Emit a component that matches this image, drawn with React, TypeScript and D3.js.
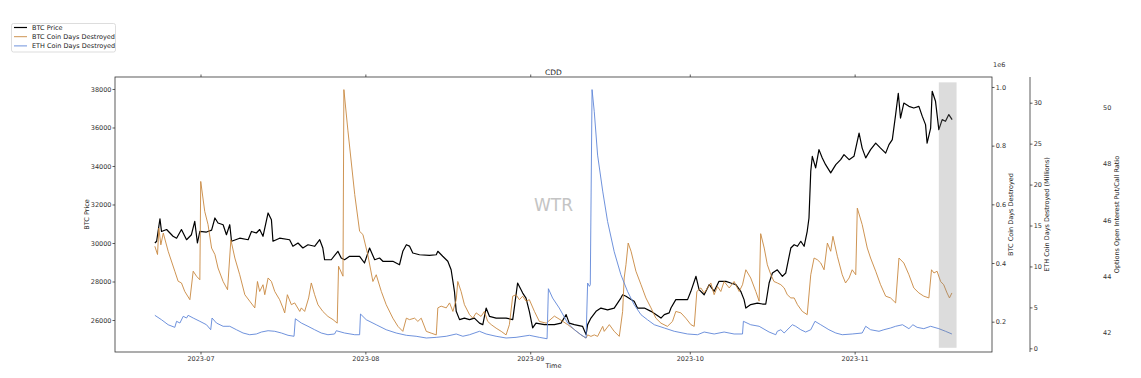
import React, { useEffect, useRef } from "react";
import * as d3 from "d3";

// ---------- DATA ----------
const btcPrice: [string, number][] = [
  ["2023-06-22 10", 30000], ["2023-06-22 18", 30090], ["2023-06-23 09", 31260], ["2023-06-23 16", 30600],
  ["2023-06-24 15", 30700], ["2023-06-25 06", 30520], ["2023-06-25 20", 30350], ["2023-06-26 12", 30250],
  ["2023-06-27 10", 30700], ["2023-06-28 09", 30170], ["2023-06-29 07", 30430], ["2023-06-29 22", 31120],
  ["2023-06-30 10", 30000], ["2023-06-30 21", 30600], ["2023-07-02 03", 30570], ["2023-07-03 02", 30670],
  ["2023-07-03 17", 31300], ["2023-07-04 07", 31040], ["2023-07-05 06", 30950], ["2023-07-05 21", 30430],
  ["2023-07-06 12", 30950], ["2023-07-06 20", 30090], ["2023-07-08 09", 30250], ["2023-07-09 23", 30170],
  ["2023-07-10 14", 30600], ["2023-07-11 12", 30520], ["2023-07-12 03", 30700], ["2023-07-12 18", 30350],
  ["2023-07-13 17", 31560], ["2023-07-14 08", 31210], ["2023-07-14 15", 30090], ["2023-07-15 21", 30250],
  ["2023-07-17 18", 30170], ["2023-07-18 09", 29830], ["2023-07-19 08", 30000], ["2023-07-20 06", 29740],
  ["2023-07-21 05", 29910], ["2023-07-22 11", 29830], ["2023-07-23 10", 30170], ["2023-07-24 00", 29740],
  ["2023-07-24 08", 29130], ["2023-07-25 14", 29130], ["2023-07-26 20", 29570], ["2023-07-27 11", 29220],
  ["2023-07-28 02", 29130], ["2023-07-29 01", 29310], ["2023-07-30 00", 29310], ["2023-07-30 22", 29310],
  ["2023-07-31 20", 28960], ["2023-08-01 19", 29740], ["2023-08-02 18", 29130], ["2023-08-03 16", 29220],
  ["2023-08-04 07", 29050], ["2023-08-06 04", 29050], ["2023-08-07 10", 28870], ["2023-08-08 01", 29570],
  ["2023-08-08 17", 29910], ["2023-08-09 07", 29840], ["2023-08-09 22", 29480], ["2023-08-11 04", 29390],
  ["2023-08-13 01", 29360], ["2023-08-14 08", 29390], ["2023-08-14 15", 29570], ["2023-08-15 13", 29310],
  ["2023-08-16 12", 29050], ["2023-08-17 03", 28610], ["2023-08-17 18", 27490], ["2023-08-18 02", 26450],
  ["2023-08-18 17", 26020], ["2023-08-19 15", 26100], ["2023-08-20 14", 26020], ["2023-08-21 12", 26100],
  ["2023-08-22 11", 25840], ["2023-08-23 02", 25760], ["2023-08-23 17", 26620], ["2023-08-24 08", 26190],
  ["2023-08-25 14", 26100], ["2023-08-27 11", 26100], ["2023-08-28 17", 26020], ["2023-08-29 00", 26620],
  ["2023-08-29 15", 27920], ["2023-08-30 14", 27400], ["2023-08-31 05", 27140], ["2023-08-31 20", 26450],
  ["2023-09-01 11", 25590], ["2023-09-02 02", 25840], ["2023-09-03 16", 25760], ["2023-09-05 13", 25760],
  ["2023-09-06 19", 25840], ["2023-09-07 18", 26280], ["2023-09-08 08", 25840], ["2023-09-09 07", 25760],
  ["2023-09-10 20", 25670], ["2023-09-11 12", 25240], ["2023-09-11 19", 25760], ["2023-09-12 10", 26100],
  ["2023-09-13 09", 26450], ["2023-09-14 07", 26620], ["2023-09-15 13", 26530], ["2023-09-16 19", 26620],
  ["2023-09-18 01", 27140], ["2023-09-18 09", 27310], ["2023-09-19 00", 27230], ["2023-09-19 23", 27060],
  ["2023-09-20 13", 26970], ["2023-09-21 04", 26620], ["2023-09-22 11", 26620], ["2023-09-23 17", 26450],
  ["2023-09-24 15", 26280], ["2023-09-25 14", 26100], ["2023-09-26 05", 26280], ["2023-09-27 03", 26370],
  ["2023-09-27 11", 26620], ["2023-09-28 09", 27060], ["2023-09-29 08", 27060], ["2023-09-30 14", 27060],
  ["2023-10-01 05", 27490], ["2023-10-02 04", 28270], ["2023-10-02 18", 27580], ["2023-10-03 17", 27310],
  ["2023-10-04 16", 27840], ["2023-10-05 14", 27490], ["2023-10-06 12", 28010], ["2023-10-07 19", 28010],
  ["2023-10-08 17", 27920], ["2023-10-09 16", 27840], ["2023-10-10 14", 27490], ["2023-10-11 05", 27060],
  ["2023-10-11 13", 26620], ["2023-10-12 11", 26800], ["2023-10-13 17", 26880], ["2023-10-14 16", 26830],
  ["2023-10-15 07", 26830], ["2023-10-15 22", 27920], ["2023-10-16 13", 28440], ["2023-10-17 11", 28610],
  ["2023-10-18 10", 28270], ["2023-10-19 01", 28440], ["2023-10-20 00", 29740], ["2023-10-20 15", 29910],
  ["2023-10-21 06", 29830], ["2023-10-21 21", 30090], ["2023-10-22 12", 29830], ["2023-10-23 02", 30610],
  ["2023-10-23 10", 31300], ["2023-10-23 18", 33730], ["2023-10-24 01", 34500], ["2023-10-24 16", 33900],
  ["2023-10-25 07", 34850], ["2023-10-25 22", 34420], ["2023-10-26 13", 34070], ["2023-10-27 12", 33640],
  ["2023-10-28 11", 34070], ["2023-10-29 09", 34330], ["2023-10-30 00", 34590], ["2023-10-30 23", 34330],
  ["2023-10-31 21", 34500], ["2023-11-01 20", 35710], ["2023-11-02 10", 34930], ["2023-11-03 02", 34420],
  ["2023-11-04 00", 34850], ["2023-11-04 23", 35190], ["2023-11-05 21", 34930], ["2023-11-06 20", 34670],
  ["2023-11-07 11", 35110], ["2023-11-08 02", 35370], ["2023-11-08 17", 36670], ["2023-11-09 05", 37780],
  ["2023-11-09 15", 36490], ["2023-11-10 06", 37270], ["2023-11-11 05", 37100], ["2023-11-12 03", 37010],
  ["2023-11-13 02", 37100], ["2023-11-13 17", 36590], ["2023-11-14 08", 36150], ["2023-11-14 15", 35190],
  ["2023-11-15 07", 35970], ["2023-11-15 14", 37880], ["2023-11-16 05", 37360], ["2023-11-16 20", 35890],
  ["2023-11-17 11", 36410], ["2023-11-18 02", 36320], ["2023-11-18 17", 36670], ["2023-11-19 08", 36410],
];

// BTC Coin Days Destroyed, in millions (axis offset 1e6)
const btcCdd: [string, number][] = [
  ["2023-06-22 10", 0.457], ["2023-06-22 22", 0.429], ["2023-06-23 04", 0.519], ["2023-06-23 13", 0.462],
  ["2023-06-24 00", 0.502], ["2023-06-24 22", 0.44], ["2023-06-26 04", 0.372], ["2023-06-26 19", 0.338],
  ["2023-06-27 10", 0.332], ["2023-06-28 01", 0.303], ["2023-06-29 00", 0.275], ["2023-06-29 15", 0.372],
  ["2023-06-30 06", 0.355], ["2023-06-30 21", 0.343], ["2023-07-01 01", 0.678], ["2023-07-01 19", 0.576],
  ["2023-07-02 10", 0.531], ["2023-07-03 02", 0.451], ["2023-07-03 17", 0.429], ["2023-07-04 07", 0.383],
  ["2023-07-05 06", 0.337], ["2023-07-06 02", 0.309], ["2023-07-06 17", 0.479], ["2023-07-07 11", 0.417],
  ["2023-07-08 09", 0.36], ["2023-07-09 08", 0.292], ["2023-07-10 06", 0.27], ["2023-07-11 05", 0.247],
  ["2023-07-11 17", 0.337], ["2023-07-12 03", 0.303], ["2023-07-12 18", 0.326], ["2023-07-13 02", 0.292],
  ["2023-07-13 17", 0.349], ["2023-07-14 08", 0.337], ["2023-07-14 23", 0.303], ["2023-07-15 21", 0.275],
  ["2023-07-16 12", 0.247], ["2023-07-16 20", 0.23], ["2023-07-17 08", 0.292], ["2023-07-18 02", 0.258],
  ["2023-07-18 17", 0.264], ["2023-07-19 16", 0.235], ["2023-07-19 23", 0.247], ["2023-07-20 14", 0.235],
  ["2023-07-21 08", 0.281], ["2023-07-21 20", 0.332], ["2023-07-22 11", 0.292], ["2023-07-23 02", 0.258],
  ["2023-07-24 00", 0.235], ["2023-07-24 23", 0.218], ["2023-07-25 22", 0.207], ["2023-07-26 17", 0.195],
  ["2023-07-26 23", 0.389], ["2023-07-27 19", 0.355], ["2023-07-27 23", 0.991], ["2023-07-28 17", 0.853],
  ["2023-07-30 00", 0.633], ["2023-07-30 22", 0.508], ["2023-07-31 13", 0.497], ["2023-08-01 11", 0.428],
  ["2023-08-02 10", 0.337], ["2023-08-03 01", 0.36], ["2023-08-04 00", 0.303], ["2023-08-04 22", 0.258],
  ["2023-08-06 04", 0.212], ["2023-08-07 03", 0.184], ["2023-08-08 01", 0.167], ["2023-08-08 17", 0.212],
  ["2023-08-09 07", 0.207], ["2023-08-10 06", 0.212], ["2023-08-10 21", 0.201], ["2023-08-11 12", 0.212],
  ["2023-08-12 11", 0.167], ["2023-08-13 09", 0.161], ["2023-08-14 08", 0.155], ["2023-08-14 15", 0.247],
  ["2023-08-15 06", 0.253], ["2023-08-16 05", 0.247], ["2023-08-16 20", 0.264], ["2023-08-17 11", 0.235],
  ["2023-08-18 02", 0.275], ["2023-08-18 09", 0.337], ["2023-08-19 00", 0.303], ["2023-08-19 15", 0.258],
  ["2023-08-20 14", 0.224], ["2023-08-21 05", 0.212], ["2023-08-21 20", 0.23], ["2023-08-22 18", 0.218],
  ["2023-08-23 09", 0.235], ["2023-08-24 00", 0.201], ["2023-08-24 16", 0.19], ["2023-08-25 14", 0.178],
  ["2023-08-26 13", 0.167], ["2023-08-27 11", 0.155], ["2023-08-28 02", 0.19], ["2023-08-28 17", 0.287],
  ["2023-08-29 08", 0.292], ["2023-08-29 23", 0.275], ["2023-08-30 14", 0.287], ["2023-08-31 05", 0.27],
  ["2023-08-31 20", 0.275], ["2023-09-01 19", 0.235], ["2023-09-02 17", 0.201], ["2023-09-04 00", 0.195],
  ["2023-09-05 13", 0.219], ["2023-09-06 19", 0.205], ["2023-09-08 01", 0.19], ["2023-09-09 07", 0.173],
  ["2023-09-10 13", 0.155], ["2023-09-11 12", 0.144], ["2023-09-11 19", 0.155], ["2023-09-12 10", 0.15],
  ["2023-09-13 01", 0.155], ["2023-09-13 16", 0.15], ["2023-09-14 15", 0.184], ["2023-09-14 22", 0.167],
  ["2023-09-15 21", 0.19], ["2023-09-16 19", 0.167], ["2023-09-17 18", 0.15], ["2023-09-18 09", 0.235],
  ["2023-09-18 16", 0.349], ["2023-09-19 00", 0.394], ["2023-09-19 10", 0.468], ["2023-09-19 23", 0.44],
  ["2023-09-20 21", 0.372], ["2023-09-21 20", 0.326], ["2023-09-22 18", 0.281], ["2023-09-23 17", 0.247],
  ["2023-09-24 15", 0.212], ["2023-09-25 14", 0.195], ["2023-09-26 19", 0.184], ["2023-09-27 18", 0.201],
  ["2023-09-28 09", 0.235], ["2023-09-29 08", 0.23], ["2023-09-30 06", 0.212], ["2023-10-01 05", 0.19],
  ["2023-10-01 20", 0.184], ["2023-10-02 08", 0.303], ["2023-10-03 02", 0.315], ["2023-10-03 17", 0.298],
  ["2023-10-04 08", 0.315], ["2023-10-04 23", 0.332], ["2023-10-05 14", 0.292], ["2023-10-06 05", 0.32],
  ["2023-10-06 20", 0.303], ["2023-10-07 11", 0.337], ["2023-10-08 10", 0.315], ["2023-10-09 08", 0.337],
  ["2023-10-10 07", 0.303], ["2023-10-10 22", 0.326], ["2023-10-11 13", 0.377], ["2023-10-12 11", 0.349],
  ["2023-10-13 10", 0.303], ["2023-10-14 01", 0.27], ["2023-10-14 08", 0.5], ["2023-10-15 00", 0.451],
  ["2023-10-15 14", 0.394], ["2023-10-16 06", 0.36], ["2023-10-16 20", 0.337], ["2023-10-17 11", 0.332],
  ["2023-10-18 03", 0.326], ["2023-10-18 18", 0.315], ["2023-10-19 08", 0.292], ["2023-10-20 00", 0.281],
  ["2023-10-20 15", 0.281], ["2023-10-21 06", 0.258], ["2023-10-22 04", 0.235], ["2023-10-23 02", 0.224],
  ["2023-10-23 18", 0.36], ["2023-10-24 09", 0.417], ["2023-10-25 00", 0.411], ["2023-10-25 15", 0.4],
  ["2023-10-26 06", 0.377], ["2023-10-26 21", 0.468], ["2023-10-27 12", 0.44], ["2023-10-27 22", 0.491],
  ["2023-10-28 18", 0.423], ["2023-10-29 16", 0.36], ["2023-10-30 07", 0.332], ["2023-10-30 23", 0.349],
  ["2023-10-31 13", 0.377], ["2023-11-01 05", 0.36], ["2023-11-01 12", 0.587], ["2023-11-02 10", 0.531],
  ["2023-11-03 09", 0.451], ["2023-11-04 00", 0.417], ["2023-11-04 23", 0.372], ["2023-11-05 21", 0.326],
  ["2023-11-06 20", 0.287], ["2023-11-07 18", 0.281], ["2023-11-08 17", 0.264], ["2023-11-09 08", 0.417],
  ["2023-11-10 06", 0.4], ["2023-11-11 05", 0.36], ["2023-11-12 03", 0.315], ["2023-11-13 02", 0.298],
  ["2023-11-14 00", 0.287], ["2023-11-14 23", 0.281], ["2023-11-15 11", 0.377], ["2023-11-15 22", 0.366],
  ["2023-11-16 12", 0.372], ["2023-11-17 04", 0.337], ["2023-11-17 18", 0.326], ["2023-11-18 09", 0.298],
  ["2023-11-18 20", 0.281], ["2023-11-19 07", 0.298],
];

// ETH Coin Days Destroyed, in millions
const ethCdd: [string, number][] = [
  ["2023-06-22 10", 4.03], ["2023-06-23 16", 3.49], ["2023-06-24 22", 2.88], ["2023-06-26 04", 2.56],
  ["2023-06-26 12", 3.3], ["2023-06-27 03", 3.09], ["2023-06-27 18", 3.91], ["2023-06-28 09", 3.7],
  ["2023-06-28 16", 4.03], ["2023-06-29 15", 3.7], ["2023-06-30 21", 3.3], ["2023-07-02 03", 2.88],
  ["2023-07-02 22", 2.27], ["2023-07-03 04", 3.7], ["2023-07-04 00", 3.09], ["2023-07-05 06", 2.69],
  ["2023-07-06 12", 2.69], ["2023-07-07 18", 2.27], ["2023-07-09 00", 1.87], ["2023-07-10 06", 1.66],
  ["2023-07-11 12", 1.75], ["2023-07-12 11", 1.99], ["2023-07-13 17", 2.15], ["2023-07-14 23", 2.08],
  ["2023-07-16 05", 1.87], ["2023-07-17 11", 1.59], ["2023-07-18 14", 1.47], ["2023-07-18 20", 3.61],
  ["2023-07-19 23", 3.09], ["2023-07-21 05", 2.69], ["2023-07-22 11", 2.27], ["2023-07-23 17", 1.87],
  ["2023-07-24 23", 1.66], ["2023-07-26 05", 1.75], ["2023-07-26 13", 2.15], ["2023-07-28 02", 1.87],
  ["2023-07-30 00", 1.66], ["2023-07-30 22", 1.66], ["2023-07-31 02", 4.19], ["2023-08-01 04", 3.49],
  ["2023-08-03 01", 2.88], ["2023-08-04 22", 2.27], ["2023-08-06 19", 1.87], ["2023-08-08 17", 1.59],
  ["2023-08-10 13", 1.47], ["2023-08-12 11", 1.26], ["2023-08-14 08", 1.34], ["2023-08-16 05", 1.47],
  ["2023-08-18 02", 1.75], ["2023-08-19 08", 1.47], ["2023-08-20 14", 1.66], ["2023-08-22 11", 2.08],
  ["2023-08-23 17", 1.75], ["2023-08-25 14", 1.47], ["2023-08-27 11", 1.26], ["2023-08-29 08", 1.34],
  ["2023-08-31 20", 1.59], ["2023-09-02 17", 1.34], ["2023-09-04 04", 1.17], ["2023-09-04 10", 7.28],
  ["2023-09-05 05", 6.14], ["2023-09-06 11", 4.92], ["2023-09-08 01", 3.09], ["2023-09-09 07", 2.27],
  ["2023-09-10 13", 1.66], ["2023-09-11 12", 1.26], ["2023-09-11 19", 7.97], ["2023-09-12 03", 7.57],
  ["2023-09-12 07", 7.77], ["2023-09-12 15", 31.6], ["2023-09-13 01", 28.9], ["2023-09-13 16", 23.6],
  ["2023-09-14 15", 19.2], ["2023-09-15 13", 15.5], ["2023-09-16 19", 11.8], ["2023-09-18 01", 9.0],
  ["2023-09-19 07", 6.96], ["2023-09-20 13", 5.33], ["2023-09-21 20", 4.1], ["2023-09-23 01", 3.49],
  ["2023-09-24 08", 2.88], ["2023-09-26 05", 2.48], ["2023-09-28 02", 2.08], ["2023-09-30 14", 1.75],
  ["2023-10-02 11", 1.66], ["2023-10-03 17", 1.99], ["2023-10-05 14", 1.75], ["2023-10-07 11", 1.99],
  ["2023-10-09 08", 1.75], ["2023-10-10 22", 1.75], ["2023-10-11 02", 3.3], ["2023-10-12 11", 2.88],
  ["2023-10-14 01", 2.69], ["2023-10-15 22", 1.99], ["2023-10-17 04", 1.66], ["2023-10-17 11", 2.08],
  ["2023-10-18 03", 2.27], ["2023-10-18 18", 1.87], ["2023-10-19 16", 2.48], ["2023-10-20 07", 2.88],
  ["2023-10-20 22", 2.69], ["2023-10-21 21", 2.27], ["2023-10-22 19", 1.99], ["2023-10-23 18", 2.27],
  ["2023-10-24 13", 3.3], ["2023-10-25 15", 2.88], ["2023-10-27 04", 2.27], ["2023-10-28 11", 1.87],
  ["2023-10-29 16", 1.66], ["2023-10-31 13", 1.75], ["2023-11-02 10", 1.87], ["2023-11-03 02", 2.69],
  ["2023-11-04 00", 2.27], ["2023-11-05 14", 2.08], ["2023-11-06 12", 2.27], ["2023-11-07 18", 2.48],
  ["2023-11-08 17", 2.69], ["2023-11-10 00", 2.88], ["2023-11-11 05", 2.4], ["2023-11-11 23", 2.88],
  ["2023-11-12 18", 2.56], ["2023-11-14 00", 2.4], ["2023-11-15 07", 2.69], ["2023-11-16 20", 2.4],
  ["2023-11-18 02", 2.08], ["2023-11-19 07", 1.75],
];

const priceTicks = [26000, 28000, 30000, 32000, 34000, 36000, 38000];
const btcCddTicks = [0.2, 0.4, 0.6, 0.8, 1.0];
const ethCddTicks = [0, 5, 10, 15, 20, 25, 30];
const ratioTicks = [42, 44, 46, 48, 50];

const priceDomain: [number, number] = [24338, 38623];
const btcCddDomain: [number, number] = [0.0967, 1.034];
const ethCddDomain: [number, number] = [-0.45, 33.14];
const ratioDomain: [number, number] = [41.3, 51.09];

// highlighted window (on the put/call ratio axis)
const highlightTimes = ["2023-11-16 20", "2023-11-20 04"];
const highlightRatio = [41.45, 50.9];

const seriesNames = ["BTC Price", "BTC Coin Days Destroyed", "ETH Coin Days Destroyed"];

// ---------- CHART ----------
const W = 1141;
const H = 378;
const M = { left: 115, right: 992, top: 77, bottom: 352 };
const FONT = "DejaVu Sans, sans-serif";
const COLORS = ["#000000", "#c8883f", "#5f86d8"];

export default function App() {
  const ref = useRef<SVGSVGElement | null>(null);

  useEffect(() => {
    const svg = d3.select(ref.current as SVGSVGElement);
    svg.selectAll("*").remove();
    const parse = d3.utcParse("%Y-%m-%d %H");

    const p = btcPrice.map(([t, v]) => ({ t: parse(t) as Date, v }));
    const b = btcCdd.map(([t, v]) => ({ t: parse(t) as Date, v }));
    const e = ethCdd.map(([t, v]) => ({ t: parse(t) as Date, v }));

    const allT = [...p, ...b, ...e].map((d) => +d.t);
    const t0 = d3.min(allT) as number;
    const t1 = d3.max(allT) as number;
    const pad = (t1 - t0) * 0.05;
    const x = d3.scaleUtc().domain([new Date(t0 - pad), new Date(t1 + pad)]).range([M.left, M.right]);

    const yP = d3.scaleLinear().domain(priceDomain).range([M.bottom, M.top]);
    const yB = d3.scaleLinear().domain(btcCddDomain).range([M.bottom, M.top]);
    const yE = d3.scaleLinear().domain(ethCddDomain).range([M.bottom, M.top]);
    const yR = d3.scaleLinear().domain(ratioDomain).range([M.bottom, M.top]);

    svg.append("rect").attr("width", W).attr("height", H).attr("fill", "#fff");

    const styleAxis = (g: d3.Selection<SVGGElement, unknown, null, undefined>) => {
      g.select(".domain").remove();
      g.selectAll(".tick line").attr("stroke", "#333").attr("stroke-width", 0.8);
      g.selectAll(".tick text").attr("fill", "#333").attr("font-size", 6.5).attr("font-family", FONT);
    };

    // lines
    const clipId = "plotclip";
    svg.append("clipPath").attr("id", clipId).append("rect")
      .attr("x", M.left).attr("y", M.top).attr("width", M.right - M.left).attr("height", M.bottom - M.top);
    const plot = svg.append("g").attr("clip-path", `url(#${clipId})`);

    const mk = (ys: d3.ScaleLinear<number, number>) =>
      d3.line<{ t: Date; v: number }>().x((d) => x(d.t)).y((d) => ys(d.v));

    plot.append("path").datum(p).attr("d", mk(yP)).attr("fill", "none")
      .attr("stroke", COLORS[0]).attr("stroke-width", 1.2).attr("stroke-linejoin", "round");
    plot.append("path").datum(b).attr("d", mk(yB)).attr("fill", "none")
      .attr("stroke", COLORS[1]).attr("stroke-width", 0.9).attr("stroke-linejoin", "round");
    plot.append("path").datum(e).attr("d", mk(yE)).attr("fill", "none")
      .attr("stroke", COLORS[2]).attr("stroke-width", 0.9).attr("stroke-linejoin", "round");

    // highlight band
    const hx0 = x(parse(highlightTimes[0]) as Date);
    const hx1 = x(parse(highlightTimes[1]) as Date);
    plot.append("rect")
      .attr("x", hx0).attr("width", hx1 - hx0)
      .attr("y", yR(highlightRatio[1])).attr("height", yR(highlightRatio[0]) - yR(highlightRatio[1]))
      .attr("fill", "#808080").attr("opacity", 0.28);

    // watermark
    svg.append("text").attr("x", (M.left + M.right) / 2).attr("y", 205)
      .attr("text-anchor", "middle").attr("dominant-baseline", "central")
      .attr("font-family", FONT).attr("font-size", 17).attr("fill", "#c4c4c4").text("WTR");

    // frame
    svg.append("rect").attr("x", M.left).attr("y", M.top)
      .attr("width", M.right - M.left).attr("height", M.bottom - M.top)
      .attr("fill", "none").attr("stroke", "#333").attr("stroke-width", 0.8);

    // axes
    const months = d3.utcMonth.range(x.domain()[0], x.domain()[1]);
    const gx = svg.append("g").attr("transform", `translate(0,${M.bottom})`)
      .call(d3.axisBottom(x).tickValues(months).tickFormat((d) => d3.utcFormat("%Y-%m")(d as Date))
        .tickSize(2.5).tickPadding(1.5));
    styleAxis(gx);
    const gxt = svg.append("g").attr("transform", `translate(0,${M.top})`)
      .call(d3.axisTop(x).tickValues(months).tickFormat(() => "").tickSize(2.5));
    styleAxis(gxt);

    const gl = svg.append("g").attr("transform", `translate(${M.left},0)`)
      .call(d3.axisLeft(yP).tickValues(priceTicks).tickFormat(d3.format("d")).tickSize(2.5).tickPadding(1));
    styleAxis(gl);

    const gr = svg.append("g").attr("transform", `translate(${M.right},0)`)
      .call(d3.axisRight(yB).tickValues(btcCddTicks).tickFormat(d3.format(".1f")).tickSize(2.5).tickPadding(1.2));
    styleAxis(gr);

    const ethX = 1030;
    const ge = svg.append("g").attr("transform", `translate(${ethX},0)`)
      .call(d3.axisRight(yE).tickValues(ethCddTicks).tickFormat(d3.format("d")).tickSize(2.5).tickPadding(1.2));
    styleAxis(ge);
    svg.append("line").attr("x1", ethX).attr("x2", ethX).attr("y1", M.top).attr("y2", M.bottom)
      .attr("stroke", "#333").attr("stroke-width", 0.8);

    const go = svg.append("g").attr("transform", `translate(1100,0)`)
      .call(d3.axisRight(yR).tickValues(ratioTicks).tickFormat(d3.format("d")).tickSize(0).tickPadding(3));
    styleAxis(go);

    // labels
    const label = (tx: number, ty: number, s: string, rot = false, size = 6.5) => {
      const t = svg.append("text").attr("font-family", FONT).attr("font-size", size).attr("fill", "#222")
        .attr("text-anchor", "middle").attr("dominant-baseline", "central").text(s);
      if (rot) t.attr("transform", `translate(${tx},${ty}) rotate(-90)`);
      else t.attr("x", tx).attr("y", ty);
    };
    const cy = (M.top + M.bottom) / 2;
    label((M.left + M.right) / 2, 72, "CDD", false, 7.5);
    label((M.left + M.right) / 2, 365.5, "Time");
    label(87, cy, "BTC Price", true);
    label(1011, cy, seriesNames[1], true);
    label(1047, cy, "ETH Coin Days Destroyed (Millions)", true);
    label(1117, cy, "Options Open Interest Put/Call Ratio", true);
    svg.append("text").attr("x", 993).attr("y", 65).attr("dominant-baseline", "central")
      .attr("font-family", FONT).attr("font-size", 6.5).attr("fill", "#333").text("1e6");

    // legend
    const lg = svg.append("g");
    lg.append("rect").attr("x", 11.5).attr("y", 23.5).attr("width", 104).attr("height", 28.5)
      .attr("rx", 2).attr("fill", "#fff").attr("stroke", "#d4d4d4").attr("stroke-width", 0.8);
    seriesNames.forEach((name, i) => {
      const yy = 27.5 + i * 9.2;
      lg.append("line").attr("x1", 14).attr("x2", 27).attr("y1", yy).attr("y2", yy)
        .attr("stroke", COLORS[i]).attr("stroke-width", i === 0 ? 1.2 : 0.9);
      lg.append("text").attr("x", 32).attr("y", yy).attr("dominant-baseline", "central")
        .attr("font-family", FONT).attr("font-size", 6.5).attr("fill", "#222").text(name);
    });
  }, []);

  return (
    <svg
      ref={ref}
      width={W}
      height={H}
      style={{ position: "absolute", left: 0, top: 0, display: "block" }}
    />
  );
}
